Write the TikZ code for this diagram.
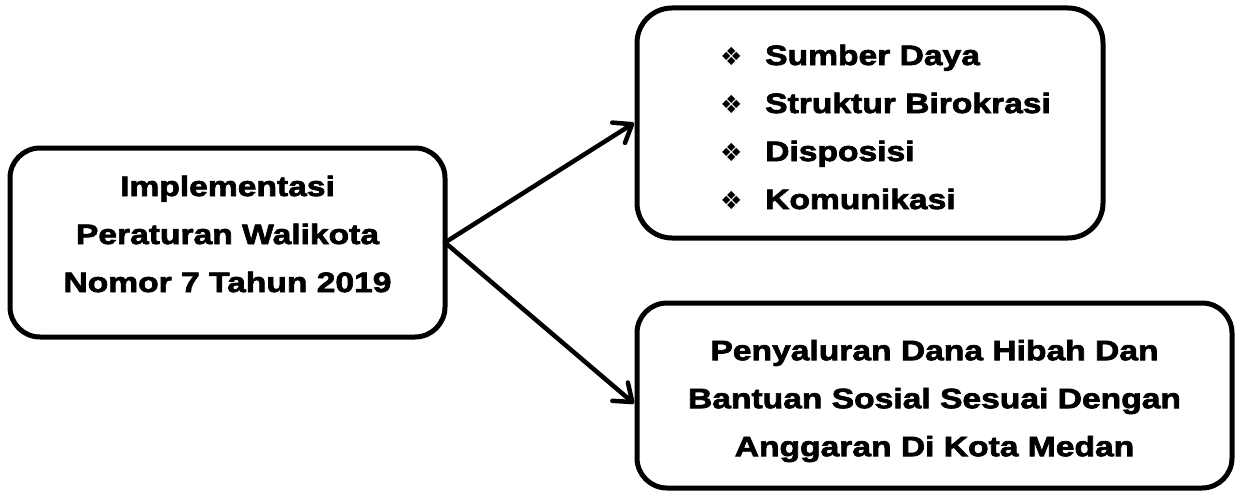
\documentclass[tikz,border=0pt]{standalone}
\usepackage{fontspec}
\setmainfont{Liberation Sans}[BoldFeatures={FakeStretch=1.2,FakeBold=2.5}]
\newfontfamily\symfont{DejaVu Sans}
\usetikzlibrary{arrows.meta}
\newcommand\bulletmark{\makebox[45pt][l]{\raisebox{0pt}{\symfont\mdseries\fontsize{25}{25}\selectfont ❖}}}
\begin{document}
\begin{tikzpicture}[x=1pt,y=1pt,
  box/.style={draw, line width=5pt, rounded corners=30pt, outer sep=0pt, inner sep=0pt},
  lbl/.style={font=\fontsize{28}{48}\selectfont\bfseries, inner sep=0pt},
  arr/.style={line width=4.5pt, line cap=round,
    -{Straight Barb[length=16pt,width=24pt,line cap=round,line join=round]}}]
\useasboundingbox[fill=white] (0,0) rectangle (1236,491);
\node[box, minimum width=435pt, minimum height=189pt] (src) at (227.5,248.5) {};
\node[lbl, align=center] (srctext) at (227.5,257) {Implementasi\\Peraturan Walikota\\Nomor 7 Tahun 2019};
\node[box, rounded corners=35pt, minimum width=466pt, minimum height=230pt] (fac) at (870,368) {};
\node[lbl, align=left, anchor=west] (list) at (720,364)
  {\bulletmark Sumber Daya\\\bulletmark Struktur Birokrasi\\\bulletmark Disposisi\\\bulletmark Komunikasi};
\node[box, minimum width=595pt, minimum height=185pt] (res) at (934.5,95.5) {};
\node[lbl, align=center] (restext) at (934.5,90) {Penyaluran Dana Hibah Dan\\Bantuan Sosial Sesuai Dengan\\Anggaran Di Kota Medan};
\draw[arr] (src.east) -- ([xshift=-3pt]fac.west);
\draw[arr] (src.east) -- ([xshift=-3pt,yshift=-8pt]res.west);
\end{tikzpicture}
\end{document}
